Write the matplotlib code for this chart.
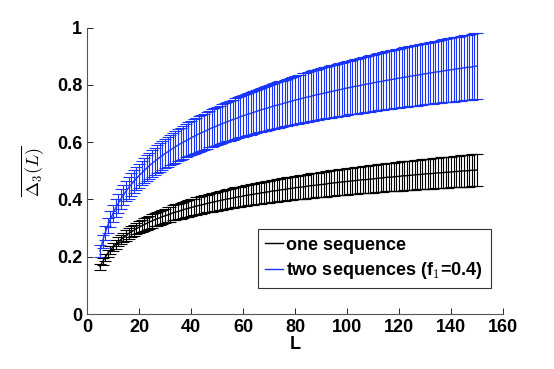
import numpy as np
import matplotlib
matplotlib.use('Agg')
import matplotlib.pyplot as plt
from matplotlib.lines import Line2D

# window lengths L
L = np.arange(5, 151)

# one sequence: mean and error
one_mean = [0.165, 0.183, 0.198, 0.212, 0.223, 0.234, 0.243, 0.252, 0.260, 0.267,
            0.274, 0.281, 0.287, 0.292, 0.298, 0.303, 0.308, 0.312, 0.317, 0.321,
            0.325, 0.329, 0.333, 0.336, 0.340, 0.343, 0.346, 0.349, 0.353, 0.356,
            0.358, 0.361, 0.364, 0.367, 0.369, 0.372, 0.374, 0.377, 0.379, 0.381,
            0.383, 0.386, 0.388, 0.390, 0.392, 0.394, 0.396, 0.398, 0.400, 0.402,
            0.403, 0.405, 0.407, 0.409, 0.410, 0.412, 0.414, 0.415, 0.417, 0.418,
            0.420, 0.421, 0.423, 0.424, 0.426, 0.427, 0.429, 0.430, 0.431, 0.433,
            0.434, 0.435, 0.437, 0.438, 0.439, 0.441, 0.442, 0.443, 0.444, 0.445,
            0.447, 0.448, 0.449, 0.450, 0.451, 0.452, 0.453, 0.454, 0.456, 0.457,
            0.458, 0.459, 0.460, 0.461, 0.462, 0.463, 0.464, 0.465, 0.466, 0.467,
            0.468, 0.469, 0.469, 0.470, 0.471, 0.472, 0.473, 0.474, 0.475, 0.476,
            0.477, 0.478, 0.478, 0.479, 0.480, 0.481, 0.482, 0.483, 0.483, 0.484,
            0.485, 0.486, 0.487, 0.487, 0.488, 0.489, 0.490, 0.490, 0.491, 0.492,
            0.493, 0.493, 0.494, 0.495, 0.495, 0.496, 0.497, 0.498, 0.498, 0.499,
            0.500, 0.500, 0.501, 0.502, 0.502, 0.503]
one_err = [0.010, 0.011, 0.012, 0.013, 0.014, 0.015, 0.015, 0.016, 0.017, 0.017,
           0.018, 0.018, 0.019, 0.020, 0.020, 0.021, 0.021, 0.022, 0.022, 0.023,
           0.023, 0.023, 0.024, 0.024, 0.025, 0.025, 0.026, 0.026, 0.026, 0.027,
           0.027, 0.028, 0.028, 0.028, 0.029, 0.029, 0.029, 0.030, 0.030, 0.031,
           0.031, 0.031, 0.032, 0.032, 0.032, 0.033, 0.033, 0.033, 0.033, 0.034,
           0.034, 0.034, 0.035, 0.035, 0.035, 0.036, 0.036, 0.036, 0.037, 0.037,
           0.037, 0.037, 0.038, 0.038, 0.038, 0.038, 0.039, 0.039, 0.039, 0.040,
           0.040, 0.040, 0.040, 0.041, 0.041, 0.041, 0.041, 0.042, 0.042, 0.042,
           0.042, 0.043, 0.043, 0.043, 0.043, 0.044, 0.044, 0.044, 0.044, 0.045,
           0.045, 0.045, 0.045, 0.046, 0.046, 0.046, 0.046, 0.046, 0.047, 0.047,
           0.047, 0.047, 0.048, 0.048, 0.048, 0.048, 0.048, 0.049, 0.049, 0.049,
           0.049, 0.050, 0.050, 0.050, 0.050, 0.050, 0.051, 0.051, 0.051, 0.051,
           0.051, 0.052, 0.052, 0.052, 0.052, 0.052, 0.053, 0.053, 0.053, 0.053,
           0.053, 0.054, 0.054, 0.054, 0.054, 0.054, 0.055, 0.055, 0.055, 0.055,
           0.055, 0.056, 0.056, 0.056, 0.056, 0.056]

# two sequences (f1=0.4): mean and error
two_mean = [0.220, 0.254, 0.284, 0.309, 0.331, 0.351, 0.370, 0.386, 0.401, 0.415,
            0.429, 0.441, 0.452, 0.463, 0.473, 0.483, 0.492, 0.501, 0.510, 0.518,
            0.526, 0.533, 0.540, 0.547, 0.554, 0.560, 0.566, 0.572, 0.578, 0.584,
            0.590, 0.595, 0.600, 0.605, 0.610, 0.615, 0.620, 0.624, 0.629, 0.633,
            0.637, 0.641, 0.646, 0.650, 0.653, 0.657, 0.661, 0.665, 0.668, 0.672,
            0.675, 0.679, 0.682, 0.685, 0.689, 0.692, 0.695, 0.698, 0.701, 0.704,
            0.707, 0.710, 0.713, 0.716, 0.718, 0.721, 0.724, 0.727, 0.729, 0.732,
            0.734, 0.737, 0.739, 0.742, 0.744, 0.747, 0.749, 0.751, 0.754, 0.756,
            0.758, 0.760, 0.763, 0.765, 0.767, 0.769, 0.771, 0.773, 0.775, 0.777,
            0.779, 0.781, 0.783, 0.785, 0.787, 0.789, 0.791, 0.793, 0.795, 0.796,
            0.798, 0.800, 0.802, 0.804, 0.805, 0.807, 0.809, 0.811, 0.812, 0.814,
            0.816, 0.817, 0.819, 0.820, 0.822, 0.824, 0.825, 0.827, 0.828, 0.830,
            0.831, 0.833, 0.834, 0.836, 0.837, 0.839, 0.840, 0.842, 0.843, 0.845,
            0.846, 0.847, 0.849, 0.850, 0.852, 0.853, 0.854, 0.856, 0.857, 0.858,
            0.860, 0.861, 0.862, 0.863, 0.865, 0.866]
two_err = [0.021, 0.023, 0.025, 0.027, 0.028, 0.030, 0.031, 0.033, 0.034, 0.035,
           0.036, 0.038, 0.039, 0.040, 0.041, 0.042, 0.043, 0.044, 0.045, 0.046,
           0.047, 0.048, 0.049, 0.050, 0.051, 0.051, 0.052, 0.053, 0.054, 0.055,
           0.056, 0.056, 0.057, 0.058, 0.059, 0.059, 0.060, 0.061, 0.062, 0.062,
           0.063, 0.064, 0.064, 0.065, 0.066, 0.066, 0.067, 0.068, 0.068, 0.069,
           0.070, 0.070, 0.071, 0.072, 0.072, 0.073, 0.073, 0.074, 0.075, 0.075,
           0.076, 0.076, 0.077, 0.078, 0.078, 0.079, 0.079, 0.080, 0.080, 0.081,
           0.081, 0.082, 0.082, 0.083, 0.084, 0.084, 0.085, 0.085, 0.086, 0.086,
           0.087, 0.087, 0.088, 0.088, 0.089, 0.089, 0.090, 0.090, 0.091, 0.091,
           0.092, 0.092, 0.093, 0.093, 0.094, 0.094, 0.094, 0.095, 0.095, 0.096,
           0.096, 0.097, 0.097, 0.098, 0.098, 0.099, 0.099, 0.099, 0.100, 0.100,
           0.101, 0.101, 0.102, 0.102, 0.103, 0.103, 0.103, 0.104, 0.104, 0.105,
           0.105, 0.106, 0.106, 0.106, 0.107, 0.107, 0.108, 0.108, 0.108, 0.109,
           0.109, 0.110, 0.110, 0.110, 0.111, 0.111, 0.112, 0.112, 0.112, 0.113,
           0.113, 0.114, 0.114, 0.114, 0.115, 0.115]

plt.rcParams['font.family'] = ['Liberation Sans', 'DejaVu Sans']
plt.rcParams['mathtext.fontset'] = 'cm'

fig = plt.figure(figsize=(5.54, 3.69), dpi=100)
ax = fig.add_axes([0.157, 0.149, 0.751, 0.776])

blue = '#1a35ff'
ax.errorbar(L, one_mean, yerr=one_err, color='black', lw=1.0, elinewidth=0.8,
            capsize=4, capthick=0.8)
ax.errorbar(L, two_mean, yerr=two_err, color=blue, lw=1.0, elinewidth=0.8,
            capsize=4, capthick=0.8)

ax.set_xlim(0, 160)
ax.set_ylim(0, 1)
ax.set_xticks(np.arange(0, 161, 20))
ax.set_yticks([0, 0.2, 0.4, 0.6, 0.8, 1])
ax.set_yticklabels(['0', '0.2', '0.4', '0.6', '0.8', '1'])
ax.tick_params(direction='in', length=4, width=0.6, labelsize=13, colors='black')
for lab in ax.get_xticklabels() + ax.get_yticklabels():
    lab.set_fontweight('bold')
for s in ['top', 'right']:
    ax.spines[s].set_visible(False)
for s in ['left', 'bottom']:
    ax.spines[s].set_color('#555555')
    ax.spines[s].set_linewidth(0.8)

ax.set_xlabel('L', fontsize=13, fontweight='bold', labelpad=0)
ax.set_ylabel(r'$\overline{\Delta_3(L)}$', fontsize=13, labelpad=8)

handles = [Line2D([], [], color='black', lw=1.0),
           Line2D([], [], color=blue, lw=1.0)]
labels = ['one sequence', 'two sequences (f$_\\mathbf{1}$=0.4)']
leg = ax.legend(handles, labels, loc='lower right', bbox_to_anchor=(0.97, 0.09),
                prop={'weight': 'bold', 'size': 13}, frameon=True, fancybox=False,
                handlelength=1.0, handletextpad=0.2, borderpad=0.4, labelspacing=0.35,
                borderaxespad=0)
leg.get_frame().set_edgecolor('black')
leg.get_frame().set_linewidth(0.8)

fig.savefig('out.png', dpi=100)
